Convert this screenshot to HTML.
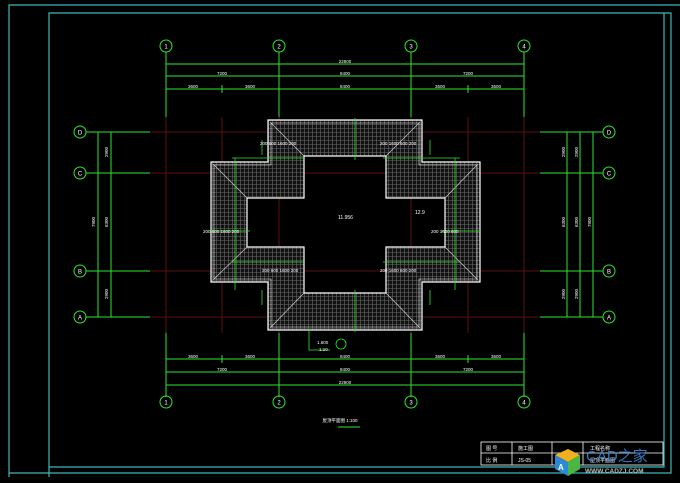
<!DOCTYPE html>
<html><head><meta charset="utf-8"><style>
html,body{margin:0;padding:0;background:#000;}
svg{display:block;}
text{font-family:"Liberation Sans","Noto Sans CJK SC",sans-serif;}
</style></head><body>
<svg width="680" height="483" viewBox="0 0 680 483" xmlns="http://www.w3.org/2000/svg">
<defs>
<pattern id="g" width="4" height="4" patternUnits="userSpaceOnUse">
<rect width="4" height="4" fill="#111"/>
<path d="M0 0.5H4M0.5 0V4" stroke="#6a6a6a" stroke-width="0.6"/>
</pattern>
</defs>
<rect width="680" height="483" fill="#000"/>
<path d="M9 477V5H680" fill="none" stroke="#3fb7b7" stroke-width="1.2"/>
<path d="M49 477V13H671V473H9" fill="none" stroke="#3fb7b7" stroke-width="1.2"/>
<path d="M49 467H664V13" fill="none" stroke="#3fb7b7" stroke-width="1.2"/>
<g stroke="#7a1414" stroke-width="0.8">
<path d="M150 132H540M150 173H540M150 271H540M150 317H540"/>
<path d="M166 117V333M279 117V333M411 117V333M524 117V333M222 117V333M468 117V333"/>
</g>
<path fill-rule="evenodd" fill="url(#g)" stroke="#fff" stroke-width="1.2" d="M268 120H422V162H480V282H422V330H268V282H211V162H268Z M304 156H386V198H445V247H386V293H304V247H247V198H304Z"/>
<path fill="none" stroke="#fff" stroke-width="0.6" d="M271 123H419V165H477V279H419V327H271V279H214V165H271Z"/>
<g stroke="#ddd" stroke-width="0.6">
<path d="M270 122L304 156M420 122L386 156M213 164L247 198M478 164L445 198M213 280L247 247M478 280L445 247M270 328L304 293M420 328L386 293"/>
</g>
<g fill="#fff" font-size="5">
<text x="338" y="219">11.956</text><text x="415" y="214">12.9</text>
</g>
<g stroke="#2ee62e" stroke-width="0.8" fill="none">
<path d="M232 158H305M383 158H460M355 118V160M355 290V332M232 262H305M383 262H460M210 231H250M441 231H480M235 158V290M455 158V290M262 140V155M430 140V155M262 290V305M430 290V305M309 329V350H330"/>
</g>
<g fill="#fff" font-size="4.5">
<text x="260" y="145">200 600 1600 200</text><text x="380" y="145">200 1600 600 200</text>
<text x="262" y="272">200 600 1600 200</text><text x="380" y="272">200 1600 600 200</text>
<text x="203" y="233">200 600 1600 200</text><text x="431" y="233">200 1600 600</text>
<text x="317" y="344">1.600</text><text x="319" y="351">1:10</text>
</g>
<circle cx="341" cy="344" r="5" fill="none" stroke="#2ee62e" stroke-width="0.8"/>
<g stroke="#2ee62e" stroke-width="1" fill="none">
<path d="M166 52V117M279 52V117M411 52V117M524 52V117"/>
<path d="M166 64H524M166 76H524M166 89H524M222 85V93M468 85V93"/>
<path d="M166 333V397M279 333V397M411 333V397M524 333V397"/>
<path d="M166 359H524M166 372H524M166 385H524M222 355V363M468 355V363"/>
<circle cx="166" cy="46" r="6"/><circle cx="279" cy="46" r="6"/><circle cx="411" cy="46" r="6"/><circle cx="524" cy="46" r="6"/>
<circle cx="166" cy="402" r="6"/><circle cx="279" cy="402" r="6"/><circle cx="411" cy="402" r="6"/><circle cx="524" cy="402" r="6"/>
<path d="M86 132H150M86 173H150M86 271H150M86 317H150M98 132V317M111 132V317"/>
<path d="M540 132H603M540 173H603M540 271H603M540 317H603M567 132V317M580 132V317M593 132V317"/>
<circle cx="80" cy="132" r="6"/><circle cx="80" cy="173" r="6"/><circle cx="80" cy="271" r="6"/><circle cx="80" cy="317" r="6"/>
<circle cx="609" cy="132" r="6"/><circle cx="609" cy="173" r="6"/><circle cx="609" cy="271" r="6"/><circle cx="609" cy="317" r="6"/>
</g>
<g fill="#fff" font-size="6" text-anchor="middle">
<text x="166" y="48.5">1</text><text x="279" y="48.5">2</text><text x="411" y="48.5">3</text><text x="524" y="48.5">4</text>
<text x="166" y="404.5">1</text><text x="279" y="404.5">2</text><text x="411" y="404.5">3</text><text x="524" y="404.5">4</text>
<text x="80" y="134.5">D</text><text x="80" y="175.5">C</text><text x="80" y="273.5">B</text><text x="80" y="319.5">A</text>
<text x="609" y="134.5">D</text><text x="609" y="175.5">C</text><text x="609" y="273.5">B</text><text x="609" y="319.5">A</text>
</g>
<g fill="#fff" font-size="4.5" text-anchor="middle">
<text x="345" y="63">22800</text><text x="222" y="75">7200</text><text x="345" y="75">8400</text><text x="468" y="75">7200</text>
<text x="193" y="88">3600</text><text x="250" y="88">3600</text><text x="345" y="88">8400</text><text x="440" y="88">3600</text><text x="496" y="88">3600</text>
<text x="193" y="358">3600</text><text x="250" y="358">3600</text><text x="345" y="358">8400</text><text x="440" y="358">3600</text><text x="496" y="358">3600</text>
<text x="222" y="371">7200</text><text x="345" y="371">8400</text><text x="468" y="371">7200</text><text x="345" y="384">22800</text>
<text x="340" y="422">屋顶平面图 1:100</text>
</g>
<path d="M338 427H360" stroke="#2ee62e" stroke-width="1"/>
<g fill="#fff" font-size="4.5" text-anchor="middle">
<text transform="translate(108 152) rotate(-90)">2900</text><text transform="translate(108 222) rotate(-90)">6300</text><text transform="translate(108 294) rotate(-90)">2900</text><text transform="translate(95 222) rotate(-90)">7900</text>
<text transform="translate(565 152) rotate(-90)">2900</text><text transform="translate(578 152) rotate(-90)">2900</text><text transform="translate(565 222) rotate(-90)">6300</text><text transform="translate(578 222) rotate(-90)">6300</text><text transform="translate(591 222) rotate(-90)">7900</text>
<text transform="translate(565 294) rotate(-90)">2900</text><text transform="translate(578 294) rotate(-90)">2900</text>
</g>
<g stroke="#fff" stroke-width="0.8" fill="none">
<rect x="481" y="442" width="182" height="23"/>
<path d="M481 453H663M512 442V465M552 442V465M583 442V465"/>
</g>
<g fill="#fff" font-size="5">
<text x="486" y="450">图 号</text><text x="518" y="450">施工图</text><text x="590" y="450">工程名称</text>
<text x="486" y="462">比 例</text><text x="518" y="462">JS-05</text><text x="590" y="462">屋顶平面图</text>
</g>
<g>
<polygon points="555,455 568,449 580,455 568,462" fill="#f0b020"/>
<polygon points="555,455 568,462 568,476 555,469" fill="#2a8ad8"/>
<polygon points="568,462 580,455 580,469 568,476" fill="#4ab840"/>
<text x="558" y="470" fill="#fff" font-size="8" font-weight="bold">A</text>
<text x="586" y="461" fill="#3a8ee0" font-size="15" opacity="0.85">CAD之家</text>
<text x="585" y="473" fill="#bbb" font-size="6.5" font-weight="bold">WWW.CADZJ.COM</text>
</g>
</svg>
</body></html>
